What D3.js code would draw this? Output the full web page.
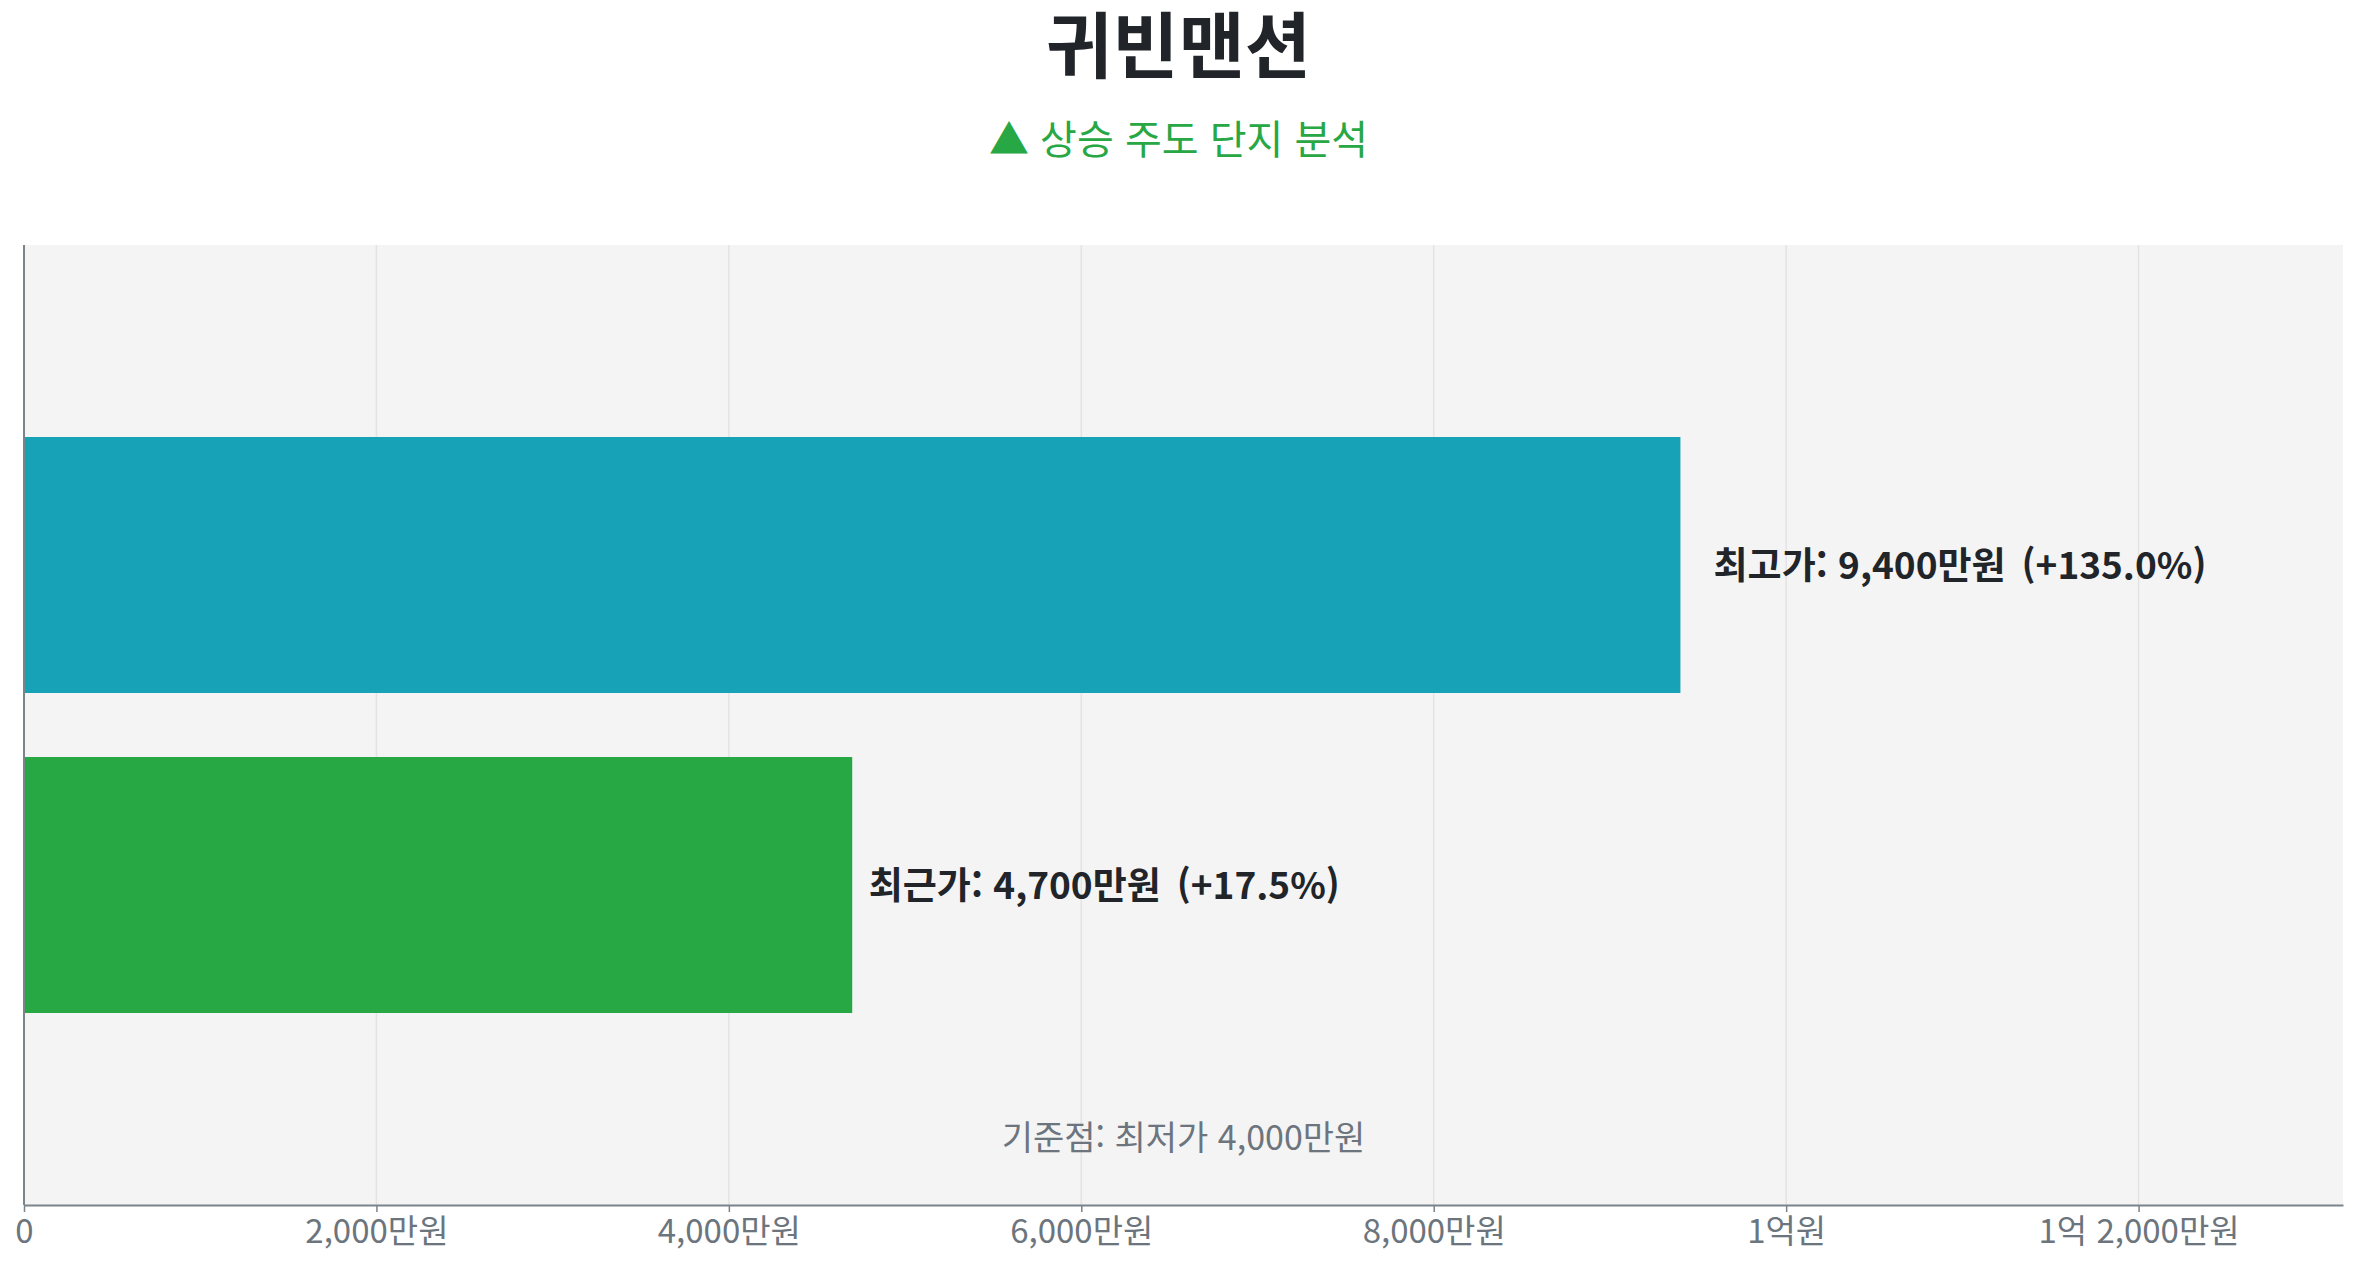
<!DOCTYPE html>
<html lang="ko">
<head>
<meta charset="utf-8">
<script src="https://cdn.jsdelivr.net/npm/d3@7"></script>
<style>
  html, body { margin: 0; padding: 0; background: #fff; }
  svg { display: block; font-family: 'Noto Sans CJK KR', 'Noto Sans', sans-serif; }
</style>
</head>
<body>
<svg id="chart"></svg>
<script>
const title = '귀빈맨션';
const subtitle = '▲ 상승 주도 단지 분석';
const categories = ['최고가', '최근가'];
const prices = [9400, 4700]; // 만원
const changes = [135.0, 17.5]; // % vs 최저가
const basePrice = 4000;
const tickValues = [0, 2000, 4000, 6000, 8000, 10000, 12000];
const barColors = ['#17a2b8', '#28a745'];

const WIDTH = 2357;
const HEIGHT = 1268;
const MARGIN = { top: 245, right: 14, bottom: 63, left: 24 };
const plotW = WIDTH - MARGIN.left - MARGIN.right;
const plotH = HEIGHT - MARGIN.top - MARGIN.bottom;

const fmt = d3.format(',');
const wonLabel = (v) => {
  if (v === 0) return '0';
  if (v >= 10000) {
    const eok = Math.floor(v / 10000);
    const rest = v % 10000;
    return rest ? `${eok}억 ${fmt(rest)}만원` : `${eok}억원`;
  }
  return `${fmt(v)}만원`;
};

const svg = d3.select('#chart').attr('width', WIDTH).attr('height', HEIGHT);

svg
  .append('text')
  .attr('x', WIDTH / 2)
  .attr('y', 40)
  .attr('text-anchor', 'middle')
  .attr('dominant-baseline', 'central')
  .attr('font-size', 72)
  .attr('font-weight', 700)
  .attr('fill', '#212529')
  .text(title);

svg
  .append('text')
  .attr('x', WIDTH / 2)
  .attr('y', 137)
  .attr('text-anchor', 'middle')
  .attr('dominant-baseline', 'central')
  .attr('font-size', 40)
  .attr('fill', '#28a745')
  .text(subtitle);

const x = d3
  .scaleLinear()
  .domain([0, d3.max(prices) * 1.4])
  .range([0, plotW]);

const y = d3
  .scaleBand()
  .domain(categories)
  .range([0, plotH])
  .paddingInner(0.2)
  .paddingOuter(0.6);

const chart = svg
  .append('g')
  .attr('transform', `translate(${MARGIN.left}, ${MARGIN.top})`);

chart
  .append('rect')
  .attr('width', plotW)
  .attr('height', plotH)
  .attr('fill', '#f4f4f4');

chart
  .append('g')
  .selectAll('line')
  .data(tickValues.slice(1))
  .enter()
  .append('line')
  .attr('x1', (d) => x(d))
  .attr('x2', (d) => x(d))
  .attr('y1', 0)
  .attr('y2', plotH)
  .attr('stroke', '#e3e3e3')
  .attr('stroke-width', 1.5);

chart
  .selectAll('.bar')
  .data(categories)
  .enter()
  .append('rect')
  .classed('bar', true)
  .attr('x', x(0))
  .attr('y', (d) => y(d))
  .attr('width', (d, i) => x(prices[i]) - x(0))
  .attr('height', y.bandwidth())
  .attr('fill', (d, i) => barColors[i]);

const labels = chart
  .selectAll('.label')
  .data(categories)
  .enter()
  .append('text')
  .classed('label', true)
  .attr('x', (d, i) => x(prices[i] * 1.02))
  .attr('y', (d) => y(d) + y.bandwidth() / 2 - 2)
  .attr('dominant-baseline', 'central')
  .attr('font-size', 37)
  .attr('font-weight', 700)
  .attr('fill', '#212529');

labels.append('tspan').text((d, i) => `${d}: ${fmt(prices[i])}만원`);
labels
  .append('tspan')
  .attr('dx', 16)
  .text((d, i) => `(+${changes[i].toFixed(1)}%)`);

chart
  .append('text')
  .attr('x', plotW / 2)
  .attr('y', plotH - 70)
  .attr('text-anchor', 'middle')
  .attr('dominant-baseline', 'central')
  .attr('font-size', 34)
  .attr('fill', '#6c757d')
  .text(`기준점: 최저가 ${fmt(basePrice)}만원`);

const xAxis = chart
  .append('g')
  .attr('transform', `translate(0, ${plotH})`)
  .call(
    d3
      .axisBottom(x)
      .tickValues(tickValues)
      .tickFormat(wonLabel)
      .tickSize(7)
      .tickSizeOuter(0)
  );

xAxis.select('.domain').attr('stroke', '#7b838b').attr('stroke-width', 2);
xAxis.selectAll('.tick line').attr('stroke', '#7b838b').attr('stroke-width', 1.5);
xAxis
  .selectAll('.tick text')
  .attr('fill', '#6c757d')
  .attr('font-size', 33)
  .attr('font-family', "'Noto Sans CJK KR', sans-serif")
  .attr('dy', '0.85em');

chart
  .append('line')
  .attr('x1', 0)
  .attr('x2', 0)
  .attr('y1', 0)
  .attr('y2', plotH)
  .attr('stroke', '#7b838b')
  .attr('stroke-width', 2);
</script>
</body>
</html>
